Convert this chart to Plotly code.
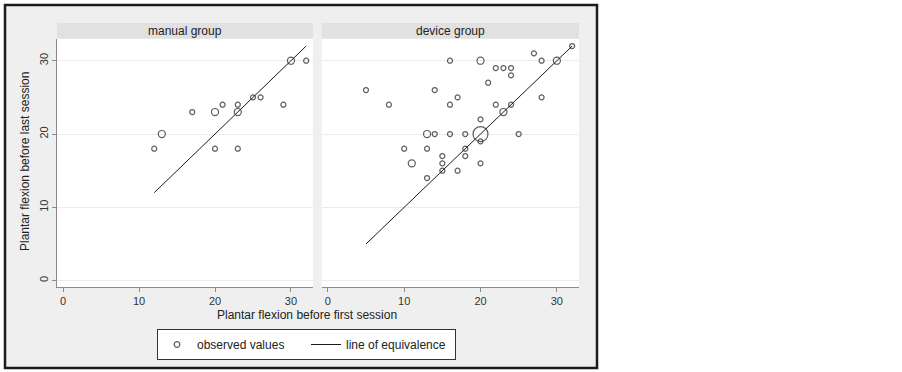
import numpy as np
import plotly.graph_objects as go

# ---------------- data ----------------
# manual group: before first session (x), before last session (y), frequency
manual_x = [12, 13, 17, 20, 20, 21, 23, 23, 23, 25, 26, 29, 30, 32]
manual_y = [18, 20, 23, 23, 18, 24, 24, 23, 18, 25, 25, 24, 30, 30]
manual_n = [1, 2, 1, 2, 1, 1, 1, 2, 1, 1, 1, 1, 2, 1]

# device group
device_x = [5, 8, 10, 11, 13, 13, 13, 14, 14, 15, 15, 15, 16, 16, 16, 17, 17, 18, 18, 18,
            20, 20, 20, 20, 20, 21, 22, 22, 23, 23, 24, 24, 24, 25, 27, 28, 28, 30, 32]
device_y = [26, 24, 18, 16, 20, 18, 14, 26, 20, 17, 16, 15, 30, 24, 20, 25, 15, 20, 18, 17,
            30, 22, 20, 19, 16, 27, 29, 24, 29, 23, 29, 28, 24, 20, 31, 30, 25, 30, 32]
device_n = [1, 1, 1, 2, 2, 1, 1, 1, 1, 1, 1, 1, 1, 1, 1, 1, 1, 1, 1, 1,
            2, 1, 9, 1, 1, 1, 1, 1, 1, 2, 1, 1, 1, 1, 1, 1, 1, 2, 1]

panel_titles = ["manual group", "device group"]
tick_vals = [0, 10, 20, 30]
x_title = "Plantar flexion before first session"
y_title = "Plantar flexion before last session"
legend_names = ["observed values", "line of equivalence"]

# ---------------- layout helpers ----------------
W, H = 902, 372
def px(x):
    return x / W
def py(y):
    return 1 - y / H

FONT = "Liberation Sans, Arial, sans-serif"
INK = "#1a1a1a"
BASE = 5.0

fig = go.Figure()

groups = [(manual_x, manual_y, manual_n, "x", "y"),
          (device_x, device_y, device_n, "x2", "y2")]
for i, (gx, gy, gn, xa, ya) in enumerate(groups):
    sizes = [BASE * np.sqrt(n) for n in gn]
    fig.add_trace(go.Scatter(
        x=gx, y=gy, mode="markers", xaxis=xa, yaxis=ya,
        name=legend_names[0], legendgroup="obs", showlegend=(i == 0),
        marker=dict(symbol="circle-open", size=sizes, color=INK,
                    line=dict(width=1.2, color=INK)),
        cliponaxis=False,
    ))
for i, (gx, gy, gn, xa, ya) in enumerate(groups):
    lo, hi = min(gx), max(gx)
    fig.add_trace(go.Scatter(
        x=[lo, hi], y=[lo, hi], mode="lines", xaxis=xa, yaxis=ya,
        name=legend_names[1], legendgroup="eq", showlegend=(i == 0),
        line=dict(color=INK, width=1),
    ))

xdom1 = [px(57), px(313)]
xdom2 = [px(321.7), px(579)]
ydom = [py(287), py(39)]
xr = [-0.8, 32.9]
yr = [-0.86, 32.96]

axis_common = dict(tickvals=tick_vals, ticks="outside", ticklen=4, tickwidth=1,
                   tickcolor="#8a8a8a", tickfont=dict(size=11, color="#333", family=FONT),
                   zeroline=False)

fig.update_layout(
    width=W, height=H,
    margin=dict(l=0, r=0, t=0, b=0),
    paper_bgcolor="white",
    plot_bgcolor="white",
    font=dict(family=FONT, color="#222"),
    xaxis=dict(domain=xdom1, range=xr, anchor="y", showline=True, linecolor="#8a8a8a",
               linewidth=1, showgrid=False, **axis_common),
    xaxis2=dict(domain=xdom2, range=xr, anchor="y2", showline=True, linecolor="#8a8a8a",
                linewidth=1, showgrid=False, **axis_common),
    yaxis=dict(domain=ydom, range=yr, anchor="x", showline=True, linecolor="#8a8a8a",
               linewidth=1, showgrid=True, gridcolor="#ececec", gridwidth=1,
               tickangle=-90, **axis_common),
    yaxis2=dict(domain=ydom, range=yr, anchor="x2", showline=False, showgrid=True,
                gridcolor="#ececec", gridwidth=1, tickvals=tick_vals,
                showticklabels=False, ticks="", zeroline=False),
    legend=dict(orientation="h", x=px(157), y=py(329), xanchor="left", yanchor="top",
                bgcolor="white", bordercolor="#333", borderwidth=1,
                font=dict(size=12, color="#222", family=FONT),
                itemwidth=30, entrywidth=104, entrywidthmode="pixels"),
)

shapes = [
    # outer graph region
    dict(type="rect", xref="paper", yref="paper", x0=px(5), x1=px(597), y0=py(368), y1=py(5),
         fillcolor="#efefef", line=dict(color="#1c1c1c", width=2.5), layer="below"),
]
for xa, ya in [("x", "y"), ("x2", "y2")]:
    shapes.append(dict(type="rect", xref=f"{xa} domain", yref=f"{ya} domain",
                       x0=0, x1=1, y0=0, y1=1, fillcolor="white",
                       line=dict(width=0), layer="below"))
annotations = []
for dom, title in zip([xdom1, xdom2], panel_titles):
    shapes.append(dict(type="rect", xref="paper", yref="paper", x0=dom[0], x1=dom[1],
                       y0=py(38.5), y1=py(23), fillcolor="#e1e1e1",
                       line=dict(width=0), layer="below"))
    annotations.append(dict(text=title, xref="paper", yref="paper",
                            x=(dom[0] + dom[1]) / 2, y=py(31), showarrow=False,
                            xanchor="center", yanchor="middle",
                            font=dict(size=12, color="#222", family=FONT)))
annotations.append(dict(text=x_title, xref="paper", yref="paper", x=px(307), y=py(315),
                        showarrow=False, xanchor="center", yanchor="middle",
                        font=dict(size=12, color="#222", family=FONT)))
annotations.append(dict(text=y_title, xref="paper", yref="paper", x=px(25), y=py(162),
                        showarrow=False, xanchor="center", yanchor="middle", textangle=-90,
                        font=dict(size=12, color="#222", family=FONT)))
fig.update_layout(shapes=shapes, annotations=annotations)

fig.write_html("out.html", config={"displayModeBar": False},
               post_script="document.body.style.margin='0px';")
